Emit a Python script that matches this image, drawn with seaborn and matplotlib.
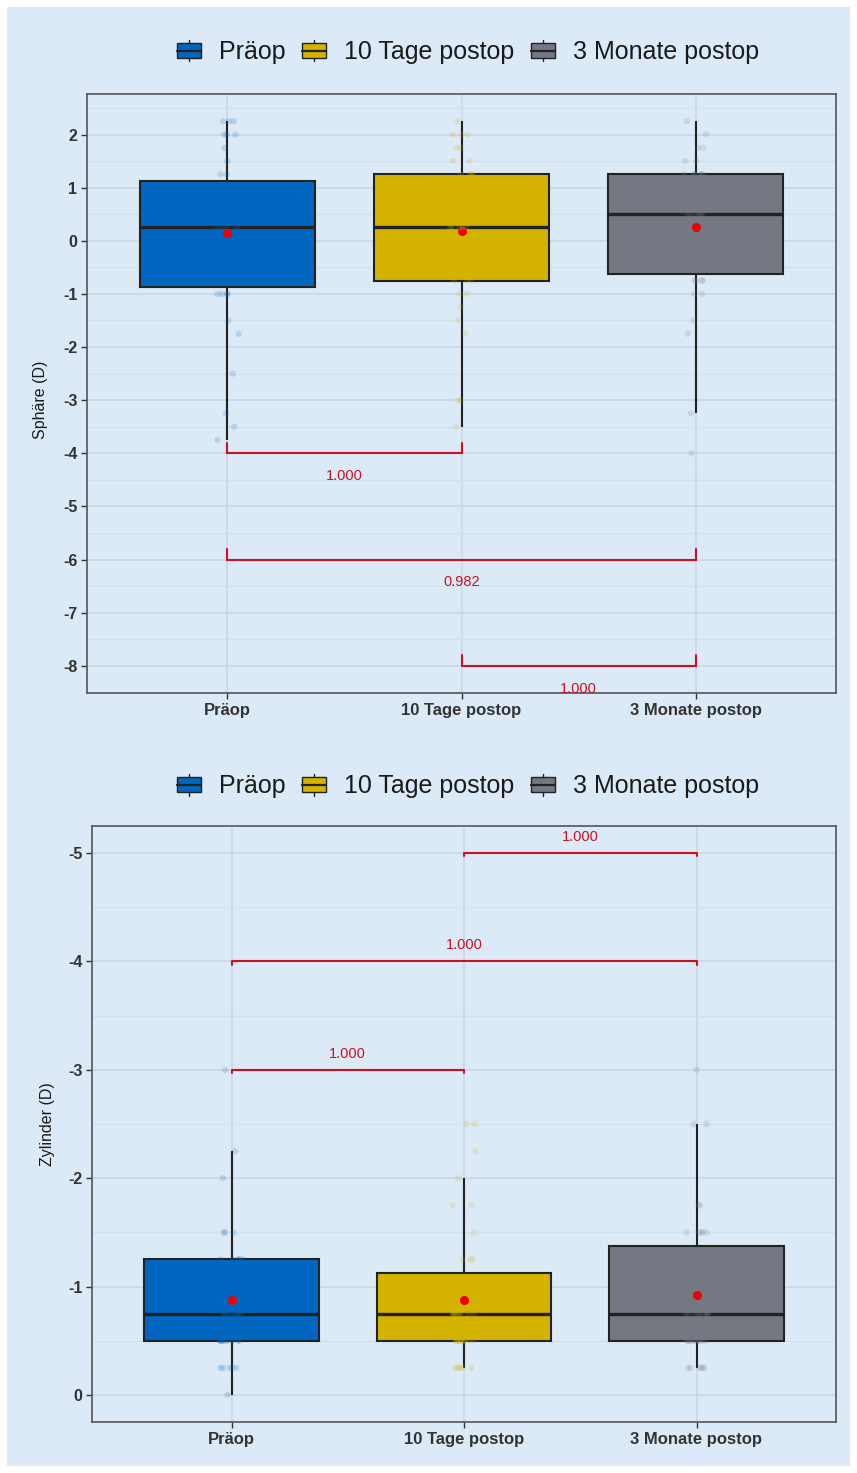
import numpy as np
import pandas as pd
import matplotlib
matplotlib.use("Agg")
import matplotlib.pyplot as plt
import seaborn as sns
from matplotlib.patches import Rectangle
from matplotlib.lines import Line2D
from matplotlib.legend_handler import HandlerBase
from matplotlib.ticker import MultipleLocator

# ---- data -------------------------------------------------------------
groups = ["Präop", "10 Tage postop", "3 Monate postop"]
palette = ["#0066c0", "#d4b300", "#737882"]

# Sphere (D), one value per eye
sphaere_praeop = [-3.75, -3.5, -3.25, -2.5, -1.75, -1.5, -1.0, -1.0, -1.0, -1.0,
                  -0.75, -0.5, -0.25, 0.0, 0.0, 0.25, 0.25, 0.25, 0.25,
                  0.25,
                  0.5, 0.75, 0.75, 0.75, 1.0, 1.0, 1.0, 1.0, 1.0,
                  1.25,
                  1.25, 1.5, 1.75, 2.0, 2.0, 2.0, 2.25, 2.25, 2.25]
sphaere_10t = [-3.5, -3.0, -3.0, -1.75, -1.5, -1.25, -1.0, -1.0, -0.75, -0.75,
               -0.75, -0.5, -0.25, 0.0, 0.0, 0.25, 0.25, 0.25, 0.25,
               0.25,
               0.5, 0.5, 0.75, 0.75, 1.0, 1.0, 1.0, 1.25, 1.25,
               1.25,
               1.25, 1.5, 1.5, 1.75, 1.75, 2.0, 2.0, 2.0, 2.25]
sphaere_3m = [-4.0, -3.25, -1.75, -1.5, -1.0, -1.0, -0.75, -0.75, -0.75, -0.75,
              -0.5, -0.25, 0.0, 0.0, 0.0, 0.25, 0.5, 0.5, 0.5,
              0.5,
              0.5, 0.5, 0.75, 0.75, 1.0, 1.0, 1.0, 1.25, 1.25,
              1.25,
              1.25, 1.25, 1.25, 1.5, 1.5, 1.75, 1.75, 2.0, 2.25]

# Cylinder (D)
zylinder_praeop = [-3.0, -2.25, -2.0, -1.5, -1.5, -1.5, -1.25, -1.25, -1.25, -1.25,
                   -1.25, -1.25, -1.0, -1.0, -1.0, -0.75, -0.75, -0.75, -0.75,
                   -0.75,
                   -0.75, -0.75, -0.5, -0.5, -0.5, -0.5, -0.5, -0.5, -0.5,
                   -0.5,
                   -0.5, -0.5, -0.5, -0.25, -0.25, -0.25, -0.25, -0.25, 0.0]
zylinder_10t = [-2.5, -2.5, -2.25, -2.0, -1.75, -1.75, -1.5, -1.25, -1.25, -1.25,
                -1.0, -1.0, -0.75, -0.75, -0.75, -0.75, -0.75, -0.75, -0.75,
                -0.75,
                -0.75, -0.5, -0.5, -0.5, -0.5, -0.5, -0.5, -0.5, -0.5,
                -0.5,
                -0.5, -0.5, -0.5, -0.25, -0.25, -0.25, -0.25, -0.25, -0.25]
zylinder_3m = [-3.0, -2.5, -2.5, -1.75, -1.75, -1.5, -1.5, -1.5, -1.5, -1.5,
               -1.25, -1.0, -1.0, -0.75, -0.75, -0.75, -0.75, -0.75, -0.75,
               -0.75,
               -0.75, -0.75, -0.5, -0.5, -0.5, -0.5, -0.5, -0.5, -0.5,
               -0.5,
               -0.5, -0.5, -0.5, -0.25, -0.25, -0.25, -0.25, -0.25, -0.25]

# pairwise comparisons: index pairs, bracket height, p value
sph_pairs = [(0, 1), (0, 2), (1, 2)]
sph_bracket_y = [-4, -6, -8]
sph_pvals = ["1.000", "0.982", "1.000"]

zyl_pairs = [(0, 1), (0, 2), (1, 2)]
zyl_bracket_y = [-3, -4, -5]
zyl_pvals = ["1.000", "1.000", "1.000"]

sph_ticks = [2, 1, 0, -1, -2, -3, -4, -5, -6, -7, -8]
zyl_ticks = [0, -1, -2, -3, -4, -5]


def long_frame(values_per_group):
    rows = []
    for g, vals in zip(groups, values_per_group):
        rows += [(g, v) for v in vals]
    return pd.DataFrame(rows, columns=["Zeitpunkt", "Wert"])


df_sph = long_frame([sphaere_praeop, sphaere_10t, sphaere_3m])
df_zyl = long_frame([zylinder_praeop, zylinder_10t, zylinder_3m])

# ---- style ------------------------------------------------------------
BG = "#dce9f6"
GRID_MAJOR = "#c6d5e5"
GRID_MINOR = "#d2dfed"
RED = "#cc1122"
LINE = "#222222"

sns.set_theme(style="white")
plt.rcParams["font.family"] = ["Liberation Sans", "DejaVu Sans"]
plt.rcParams["axes.unicode_minus"] = False

fig = plt.figure(figsize=(8.57, 14.73), dpi=100, facecolor="white")
fig.patches.append(Rectangle((7 / 857, 7 / 1473), 843 / 857, 1459 / 1473,
                             transform=fig.transFigure, facecolor=BG,
                             edgecolor="none", zorder=-10))

ax1 = fig.add_axes([87 / 857, 1 - 693 / 1473, 749 / 857, 599 / 1473])
ax2 = fig.add_axes([92 / 857, 1 - 1422 / 1473, 744 / 857, 596 / 1473])


def draw_panel(ax, df):
    sns.boxplot(data=df, x="Zeitpunkt", y="Wert", hue="Zeitpunkt",
                order=groups, hue_order=groups, palette=palette,
                saturation=1, width=0.75, showfliers=False, legend=False,
                linecolor=LINE, linewidth=1.5,
                showmeans=True,
                meanprops=dict(marker="o", markerfacecolor="#ee0000",
                               markeredgecolor="#ee0000", markersize=5.5),
                medianprops=dict(color=LINE, linewidth=2.4),
                capprops=dict(visible=False),
                ax=ax)
    sns.stripplot(data=df, x="Zeitpunkt", y="Wert", hue="Zeitpunkt",
                  order=groups, hue_order=groups, palette=palette,
                  jitter=0.05, size=4.6, alpha=0.17, linewidth=0,
                  legend=False, ax=ax)
    ax.set_facecolor(BG)
    ax.set_xlim(-0.6, 2.6)
    ax.set_axisbelow(True)
    ax.yaxis.set_minor_locator(MultipleLocator(0.5))
    ax.grid(which="major", axis="both", color=GRID_MAJOR, linewidth=1.1)
    ax.grid(which="minor", axis="y", color=GRID_MINOR, linewidth=0.9)
    for s in ax.spines.values():
        s.set_visible(True)
        s.set_color("#555555")
        s.set_linewidth(1.2)
    ax.tick_params(which="major", direction="out", length=4, width=1,
                   color="#333333", pad=3, left=True, bottom=True)
    ax.tick_params(which="minor", length=0)
    ax.set_xlabel("")
    for lab in ax.get_xticklabels():
        lab.set_fontweight("bold")
        lab.set_fontsize(12)
        lab.set_color("#333333")


np.random.seed(7)
draw_panel(ax1, df_sph)
draw_panel(ax2, df_zyl)

# top panel axes
ax1.set_ylim(-8.5125, 2.7625)
ax1.set_yticks(sph_ticks)
ax1.set_yticklabels([str(t) for t in sph_ticks], fontweight="bold",
                    fontsize=11.5, color="#333333")
ax1.set_ylabel("Sphäre (D)", fontsize=11.5, color="#1a1a1a")
ax1.yaxis.set_label_coords(-0.052, 0.49)
for (a, b), yb, p in zip(sph_pairs, sph_bracket_y, sph_pvals):
    ax1.plot([a, a, b, b], [yb + 0.2, yb, yb, yb + 0.2], color=RED,
             linewidth=1.5, solid_joinstyle="miter", zorder=5)
    ax1.text((a + b) / 2, yb - 0.43, p, color=RED, fontsize=10.5,
             ha="center", va="center", clip_on=True, zorder=5)

# bottom panel axes (reversed)
ax2.set_ylim(0.25, -5.25)
ax2.set_yticks(zyl_ticks)
ax2.set_yticklabels([str(t) for t in zyl_ticks], fontweight="bold",
                    fontsize=11.5, color="#333333")
ax2.set_ylabel("Zylinder (D)", fontsize=11.5, color="#1a1a1a")
ax2.yaxis.set_label_coords(-0.05, 0.5)
for (a, b), yb, p in zip(zyl_pairs, zyl_bracket_y, zyl_pvals):
    ax2.plot([a, a, b, b], [yb + 0.03, yb, yb, yb + 0.03], color=RED,
             linewidth=1.5, zorder=5)
    ax2.text((a + b) / 2, yb - 0.15, p, color=RED, fontsize=10.5,
             ha="center", va="center", clip_on=True, zorder=5)


# legend keys drawn as small boxplot glyphs
class BoxKey(HandlerBase):
    def create_artists(self, legend, orig_handle, xdescent, ydescent,
                       width, height, fontsize, trans):
        fc = orig_handle.get_facecolor()
        bw = 0.96 * fontsize
        x0 = -xdescent
        xc = x0 + bw / 2
        y0 = -ydescent
        bh = 0.71 * height
        by = y0 + (height - bh) / 2
        w1 = Line2D([xc, xc], [y0, by], color=LINE, lw=1.0, transform=trans)
        w2 = Line2D([xc, xc], [by + bh, y0 + height], color=LINE, lw=1.0,
                    transform=trans)
        rect = Rectangle((x0, by), bw, bh, facecolor=fc, edgecolor=LINE,
                         lw=1.0, transform=trans)
        med = Line2D([x0, x0 + bw], [y0 + height / 2] * 2, color=LINE,
                     lw=1.6, transform=trans)
        return [w1, w2, rect, med]


handles = [Rectangle((0, 0), 1, 1, facecolor=c) for c in palette]
for ycen in (52, 786):
    leg = fig.legend(handles, groups, loc="center",
                     bbox_to_anchor=(468 / 857, 1 - ycen / 1473),
                     ncol=3, frameon=False, fontsize=18,
                     handler_map={Rectangle: BoxKey()},
                     handlelength=1.2, handleheight=0.96,
                     handletextpad=0.5, columnspacing=0.64)
    for t in leg.get_texts():
        t.set_color("#1a1a1a")

fig.savefig("out.png", dpi=100, facecolor="white")
